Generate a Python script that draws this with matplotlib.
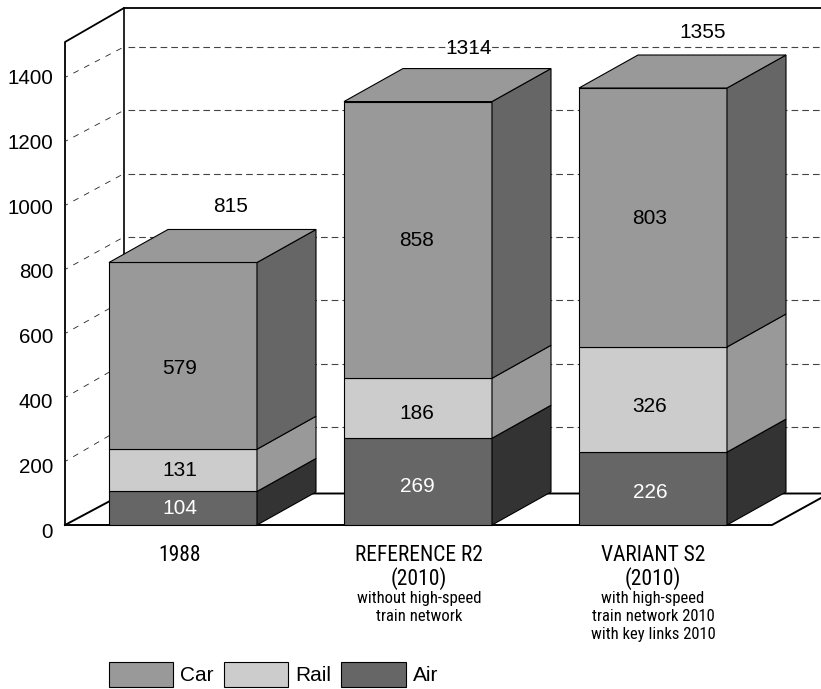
import matplotlib
matplotlib.use("Agg")
from matplotlib import pyplot as plt
from matplotlib.patches import Patch

plt.rcParams['font.family'] = ['Liberation Sans', 'DejaVu Sans']
plt.rcParams['lines.scale_dashes'] = False

# data
series_names = ["Car", "Rail", "Air"]
air = [104, 269, 226]
rail = [131, 186, 326]
car = [579, 858, 803]
totals = [815, 1314, 1355]
y_ticks = [0, 200, 400, 600, 800, 1000, 1200, 1400]
category_titles = ["1988", "REFERENCE R2\n(2010)", "VARIANT S2\n(2010)"]
category_notes = ["", "without high-speed\ntrain network", "with high-speed\ntrain network 2010\nwith key links 2010"]

# layout, in pixels of the 821x689 picture
W, H = 821, 689
ZERO = 525
SCALE = 0.3225          # px per unit for the bars
DX, DY = 59, 33         # depth of the 3d look
bar_left = [109, 344, 579]
bar_width = 148
total_x = [231, 469, 703]
total_px = [206, 49, 32]
label_x = [180, 417, 650]
label_px = {"car": [369, 240, 219], "rail": [471, 414, 406], "air": [509, 487, 492]}
category_x = [180, 419, 653]

front_face = {"car": "#999999", "rail": "#cccccc", "air": "#666666"}
side_face = {"car": "#666666", "rail": "#999999", "air": "#333333"}


def val(px):
    # picture row -> data value
    return (ZERO - px) / SCALE


fig = plt.figure(figsize=(W / 100, H / 100), dpi=100)
ax = fig.add_axes([0, 0, 1, 1])
ax.set_xlim(0, W)
ax.set_ylim(val(H), val(0))
ax.axis("off")

# dashed grid, side wall then back wall
for t in y_ticks[1:]:
    ax.plot([66, 124], [val(ZERO - 0.32 * t), val(490.3 - 0.3167 * t)], color="#222222", lw=0.6,
            ls=(2.7, (4.2, 4.5)), zorder=1)
    ax.plot([128, W], [val(490.3 - 0.3167 * t)] * 2, color="#444444", lw=0.8,
            ls=(0, (4.8, 2.9)), zorder=1)

# walls and floor
ax.plot([65, 65, 124, W], [val(ZERO), val(42), val(8), val(8)], color="black", lw=1.3, zorder=2)
ax.plot([124, 124], [val(8), val(494)], color="black", lw=1.2, zorder=2)
ax.plot([65, 124, W], [val(ZERO), val(493.5), val(493.5)], color="black", lw=1.4, zorder=2)
ax.plot([65, 772, W], [val(ZERO), val(ZERO), val(498)], color="black", lw=1.4, zorder=2)

# stacked boxes
ddy = DY / SCALE
for i, left in enumerate(bar_left):
    right = left + bar_width
    base = 0
    for key, values in [("air", air), ("rail", rail), ("car", car)]:
        top = base + values[i]
        ax.fill([left, right, right, left], [base, base, top, top], fc=front_face[key],
                ec="black", lw=0.8, zorder=3)
        ax.fill([right, right + DX, right + DX, right],
                [base, base + ddy, top + ddy, top], fc=side_face[key],
                ec="black", lw=0.8, zorder=3)
        if key == "car":
            ax.fill([left, right, right + DX, left + DX], [top, top, top + ddy, top + ddy],
                    fc=front_face[key], ec="black", lw=0.8, zorder=3)
        ax.text(label_x[i], val(label_px[key][i]), str(values[i]), ha="center", va="center",
                fontsize=15, color="white" if key == "air" else "black", zorder=4)
        base = top
    ax.text(total_x[i], val(total_px[i]), str(totals[i]), ha="center", va="center",
            fontsize=15, zorder=4)

# y labels
for t in y_ticks:
    ax.text(53, val(532 - 0.324 * t), str(t), ha="right", va="center", fontsize=14.8)

# category labels
narrow = ['Roboto Condensed', 'Roboto', 'Liberation Sans']
for i, x in enumerate(category_x):
    ax.text(x, val(545), category_titles[i], ha="center", va="top", fontsize=15.5,
            family=narrow, linespacing=1.07)
    if category_notes[i]:
        ax.text(x, val(591), category_notes[i], ha="center", va="top", fontsize=12,
                family=narrow, linespacing=1.27)

handles = [Patch(fc=front_face["car"], ec="black", lw=0.8),
           Patch(fc=front_face["rail"], ec="black", lw=0.8),
           Patch(fc=front_face["air"], ec="black", lw=0.8)]
ax.legend(handles, series_names, ncols=3, frameon=False, fontsize=15, loc="lower left",
          bbox_to_anchor=(109 / W, 2 / H), borderaxespad=0, borderpad=0,
          handlelength=3.08, handleheight=1.47, handletextpad=0.33, columnspacing=0.5)

fig.savefig("out.png", dpi=100)
